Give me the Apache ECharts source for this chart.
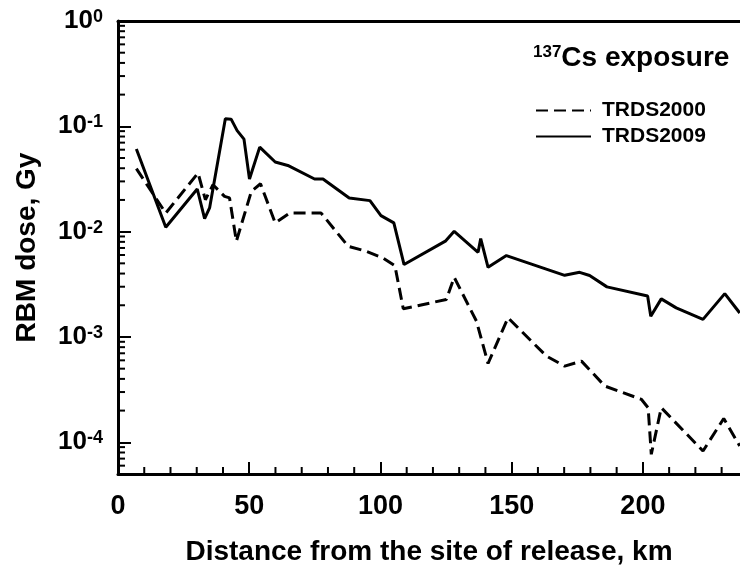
<!DOCTYPE html>
<html>
<head>
<meta charset="utf-8">
<script src="https://cdn.jsdelivr.net/npm/echarts@6/dist/echarts.min.js"></script>
<style>
html,body{margin:0;padding:0;background:#fff;}
#chart{width:740px;height:573px;}
</style>
</head>
<body>
<div id="chart"></div>
<script>
// ---- data ----
const x2009 = [7.0, 18.2, 30.2, 33.0, 34.9, 40.9, 43.1, 45.4, 48.0, 50.1, 54.0, 59.9, 64.7, 74.9, 78.1, 88.1, 96.0, 100.2, 105.1, 109.0, 124.9, 128.1, 137.2, 138.2, 141.0, 148.0, 170.2, 175.9, 179.7, 186.3, 201.8, 203.0, 207.0, 212.7, 222.9, 231.2, 236.9];
const y2009 = [0.061, 0.011, 0.0254, 0.0133, 0.0168, 0.118, 0.117, 0.091, 0.0756, 0.0316, 0.0635, 0.0458, 0.0425, 0.0316, 0.0316, 0.0209, 0.0197, 0.0142, 0.0121, 0.00487, 0.00818, 0.01007, 0.00637, 0.00859, 0.00459, 0.00593, 0.00385, 0.00411, 0.00383, 0.00299, 0.00245, 0.00157, 0.0023, 0.00189, 0.00147, 0.00258, 0.00169];
const x2000 = [7.0, 18.2, 30.5, 33.3, 36.2, 40.6, 42.5, 45.1, 50.8, 54.3, 59.9, 65.4, 77.4, 87.7, 94.7, 101.0, 105.5, 108.7, 125.1, 128.1, 136.6, 141.0, 148.6, 163.2, 170.2, 176.6, 185.5, 199.4, 202.0, 203.2, 207.0, 222.9, 230.8, 236.9];
const y2000 = [0.0396, 0.0150, 0.036, 0.0201, 0.0279, 0.0216, 0.0209, 0.0081, 0.0241, 0.0285, 0.0121, 0.0150, 0.0150, 0.00726, 0.0065, 0.00562, 0.00476, 0.00185, 0.00227, 0.00369, 0.00141, 0.00056, 0.00152, 0.00066, 0.000528, 0.00059, 0.000342, 0.000256, 0.000213, 0.0000769, 0.000213, 0.0000827, 0.000168, 0.0000922];
const seriesNames = ['TRDS2000', 'TRDS2009'];
const xMin = 0, xMax = 237, xInterval = 50;
const xMajorTicks = [0, 50, 100, 150, 200];
const xMinorTicks = [];
for (let v = 10; v < xMax; v += 10) if (v % 50 !== 0) xMinorTicks.push(v);
const yMin = 5e-5, yMax = 1;
const yMinorTicks = [];
for (let e = -5; e < 0; e++) {
  for (let m = 2; m <= 9; m++) {
    const v = m * Math.pow(10, e);
    if (v >= yMin && v < yMax) yMinorTicks.push(+v.toPrecision(3));
  }
}
const xTitle = 'Distance from the site of release, km';
const yTitle = 'RBM dose, Gy';

// ---- chart ----
const FONT = "'Liberation Sans', Arial, sans-serif";
const chart = echarts.init(document.getElementById('chart'), null, {renderer: 'canvas'});
const zip = (xs, ys) => xs.map((x, i) => [x, ys[i]]);

const option = {
  animation: false,
  backgroundColor: '#fff',
  title: {
    text: '{sup|137}{main|Cs exposure}',
    left: 533, top: 44, padding: 0,
    textStyle: {
      rich: {
        sup: {fontFamily: FONT, fontWeight: 'bold', fontSize: 17, color: '#000', verticalAlign: 'top'},
        main: {fontFamily: FONT, fontWeight: 'bold', fontSize: 28, color: '#000'}
      }
    }
  },
  legend: {
    data: seriesNames,
    orient: 'vertical',
    left: 535, top: 100,
    padding: 0,
    itemWidth: 55, itemHeight: 14, itemGap: 5,
    itemStyle: {color: 'rgba(0,0,0,0)', borderWidth: 0, opacity: 0},
    textStyle: {fontFamily: FONT, fontWeight: 'bold', fontSize: 21, color: '#000', padding: [0, 0, 0, 6]},
    selectedMode: false
  },
  grid: {left: 118, right: 0, top: 21, bottom: 99, containLabel: false},
  xAxis: [{
    type: 'value', min: xMin, max: xMax, interval: xInterval,
    name: xTitle, nameLocation: 'middle', nameGap: 64,
    nameTextStyle: {fontFamily: FONT, fontWeight: 'bold', fontSize: 28, color: '#000'},
    axisLine: {show: true, onZero: false, lineStyle: {color: '#000', width: 3}},
    axisTick: {show: true, inside: true, length: 12, customValues: xMajorTicks, lineStyle: {color: '#000', width: 2}},
    minorTick: {show: false},
    axisLabel: {fontFamily: FONT, fontWeight: 'bold', fontSize: 27, color: '#000', margin: 19, customValues: xMajorTicks, showMaxLabel: true, showMinLabel: true},
    splitLine: {show: false}
  }, {
    type: 'value', min: xMin, max: xMax, position: 'top',
    axisLine: {show: true, onZero: false, lineStyle: {color: '#000', width: 3}},
    axisTick: {show: false}, axisLabel: {show: false}, splitLine: {show: false}
  }],
  yAxis: [{
    type: 'log', logBase: 10, min: yMin, max: yMax,
    name: yTitle, nameLocation: 'middle', nameGap: 77,
    nameTextStyle: {fontFamily: FONT, fontWeight: 'bold', fontSize: 28, color: '#000'},
    axisLine: {show: true, onZero: false, lineStyle: {color: '#000', width: 3}},
    axisTick: {show: true, inside: true, length: 13, lineStyle: {color: '#000', width: 2}},
    axisLabel: {
      margin: 15, showMinLabel: false,
      formatter: function (v) {
        const l = Math.log10(v);
        const r = Math.round(l);
        if (Math.abs(l - r) > 1e-6) return '';
        return '{b|10}{s|' + r + '}';
      },
      rich: {
        b: {fontFamily: FONT, fontWeight: 'bold', fontSize: 26, color: '#000'},
        s: {fontFamily: FONT, fontWeight: 'bold', fontSize: 18, color: '#000', verticalAlign: 'top'}
      }
    },
    splitLine: {show: false}
  }],
  series: [{
    name: 'TRDS2000', type: 'line', data: zip(x2000, y2000),
    symbol: 'none', smooth: false,
    lineStyle: {color: '#000', width: 3, type: [12, 6]},
    itemStyle: {color: '#000'}
  }, {
    name: 'TRDS2009', type: 'line', data: zip(x2009, y2009),
    symbol: 'none', smooth: false,
    lineStyle: {color: '#000', width: 3, type: 'solid'},
    itemStyle: {color: '#000'}
  }, {
    name: 'minorTicksY', type: 'custom', silent: true, clip: false, z: 5,
    data: yMinorTicks.map(v => [xMin, v]),
    renderItem: function (params, api) {
      const p = api.coord([api.value(0), api.value(1)]);
      return {type: 'line', shape: {x1: p[0], y1: p[1], x2: p[0] + 7, y2: p[1]},
              style: {stroke: '#000', lineWidth: 2}};
    }
  }, {
    name: 'minorTicksX', type: 'custom', silent: true, clip: false, z: 5,
    data: xMinorTicks.map(v => [v, yMin]),
    renderItem: function (params, api) {
      const p = api.coord([api.value(0), api.value(1)]);
      return {type: 'line', shape: {x1: p[0], y1: p[1], x2: p[0], y2: p[1] - 7},
              style: {stroke: '#000', lineWidth: 2}};
    }
  }]
};
chart.setOption(option);
</script>
</body>
</html>
